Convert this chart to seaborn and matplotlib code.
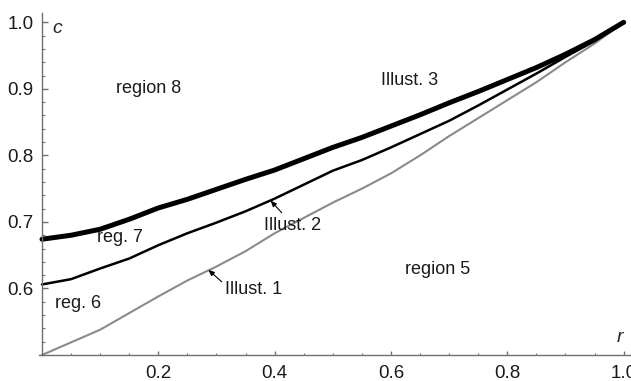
import matplotlib
matplotlib.use("Agg")
import matplotlib.pyplot as plt
import seaborn as sns
import pandas as pd
from matplotlib.ticker import MultipleLocator, FixedLocator

# ---- data ----
r_vals = [0.0, 0.05, 0.1, 0.15, 0.2, 0.25, 0.3, 0.35, 0.4, 0.45, 0.5,
          0.55, 0.6, 0.65, 0.7, 0.75, 0.8, 0.85, 0.9, 0.95, 1.0]
c_illust3 = [0.674, 0.680, 0.689, 0.704, 0.721, 0.734, 0.749, 0.764, 0.778, 0.795, 0.812,
             0.827, 0.844, 0.861, 0.879, 0.896, 0.914, 0.932, 0.952, 0.974, 1.0]
c_illust2 = [0.606, 0.614, 0.630, 0.645, 0.665, 0.683, 0.699, 0.716, 0.735, 0.756, 0.777,
             0.793, 0.812, 0.832, 0.852, 0.875, 0.899, 0.923, 0.948, 0.972, 1.0]
c_illust1 = [0.500, 0.519, 0.538, 0.563, 0.588, 0.612, 0.633, 0.656, 0.683, 0.706, 0.729,
             0.750, 0.773, 0.800, 0.829, 0.856, 0.883, 0.910, 0.940, 0.968, 1.0]

x_tick_vals = [0.2, 0.4, 0.6, 0.8, 1.0]
x_tick_labels = ["0.2", "0.4", "0.6", "0.8", "1.0"]
y_tick_vals = [0.6, 0.7, 0.8, 0.9, 1.0]
y_tick_labels = ["0.6", "0.7", "0.8", "0.9", "1.0"]

region_labels = ["region 8", "Illust. 3", "reg. 7", "reg. 6", "region 5"]
region_r = [0.184, 0.632, 0.134, 0.062, 0.680]
region_c = [0.900, 0.912, 0.677, 0.578, 0.628]

df = pd.DataFrame({
    "r": r_vals * 3,
    "c": c_illust1 + c_illust2 + c_illust3,
    "curve": ["Illust. 1"] * len(r_vals) + ["Illust. 2"] * len(r_vals) + ["Illust. 3"] * len(r_vals),
})

sns.set_style("white")
plt.rcParams["font.family"] = ["Liberation Sans", "DejaVu Sans"]

fig = plt.figure(figsize=(6.31, 3.81), dpi=100)
ax = fig.add_axes([38.5 / 631, 26 / 381, 593 / 631, 342 / 381])

styles = {"Illust. 1": ("#8a8a8a", 1.5), "Illust. 2": ("black", 1.8), "Illust. 3": ("black", 3.6)}
for name in ["Illust. 1", "Illust. 2", "Illust. 3"]:
    col, lw = styles[name]
    sns.lineplot(data=df[df["curve"] == name], x="r", y="c", ax=ax, color=col,
                 linewidth=lw, legend=False, solid_capstyle="round",
                 solid_joinstyle="round", sort=False)

ax.set_xlim(-0.006, 1.0135)
ax.set_ylim(0.5, 1.014)
ax.set_xlabel("")
ax.set_ylabel("")

for s in ["top", "right"]:
    ax.spines[s].set_visible(False)
ax.spines["left"].set_position(("data", 0.0))
ax.spines["bottom"].set_position(("data", 0.5))
for s in ["left", "bottom"]:
    ax.spines[s].set_color("#707070")
    ax.spines[s].set_linewidth(1.0)

ax.xaxis.set_major_locator(FixedLocator(x_tick_vals))
ax.set_xticklabels(x_tick_labels)
ax.xaxis.set_minor_locator(MultipleLocator(0.05))
ax.yaxis.set_major_locator(FixedLocator(y_tick_vals))
ax.set_yticklabels(y_tick_labels)
ax.yaxis.set_minor_locator(MultipleLocator(0.02))

ax.tick_params(axis="both", which="both", bottom=True, left=True, top=False, right=False,
               direction="in", color="#707070")
ax.tick_params(axis="x", which="major", length=3.0, width=1.0, labelsize=13.5,
               labelcolor="#1a1a1a", pad=7)
ax.tick_params(axis="x", which="minor", length=1.8, width=0.8)
ax.tick_params(axis="y", which="major", length=4.0, width=1.0, labelsize=13.5,
               labelcolor="#1a1a1a", pad=6)
ax.tick_params(axis="y", which="minor", length=2.3, width=0.8)

# axis labels
ax.text(0.027, 0.990, "c", style="italic", fontsize=14, ha="center", va="center")
ax.text(0.993, 0.526, "r", style="italic", fontsize=14, ha="center", va="center")

for lab, rr, cc in zip(region_labels, region_r, region_c):
    ax.text(rr, cc, lab, fontsize=13, ha="center", va="center", color="#1a1a1a")

arrow = dict(arrowstyle="-|>,head_length=0.35,head_width=0.15", color="black",
             lw=0.8, shrinkA=0, shrinkB=0)
ax.annotate("", xy=(0.393, 0.732), xytext=(0.412, 0.714), arrowprops=arrow)
ax.text(0.431, 0.695, "Illust. 2", fontsize=13, ha="center", va="center", color="#1a1a1a")
ax.annotate("", xy=(0.286, 0.628), xytext=(0.309, 0.610), arrowprops=arrow)
ax.text(0.364, 0.599, "Illust. 1", fontsize=13, ha="center", va="center", color="#1a1a1a")

fig.savefig("out.png", dpi=100)
